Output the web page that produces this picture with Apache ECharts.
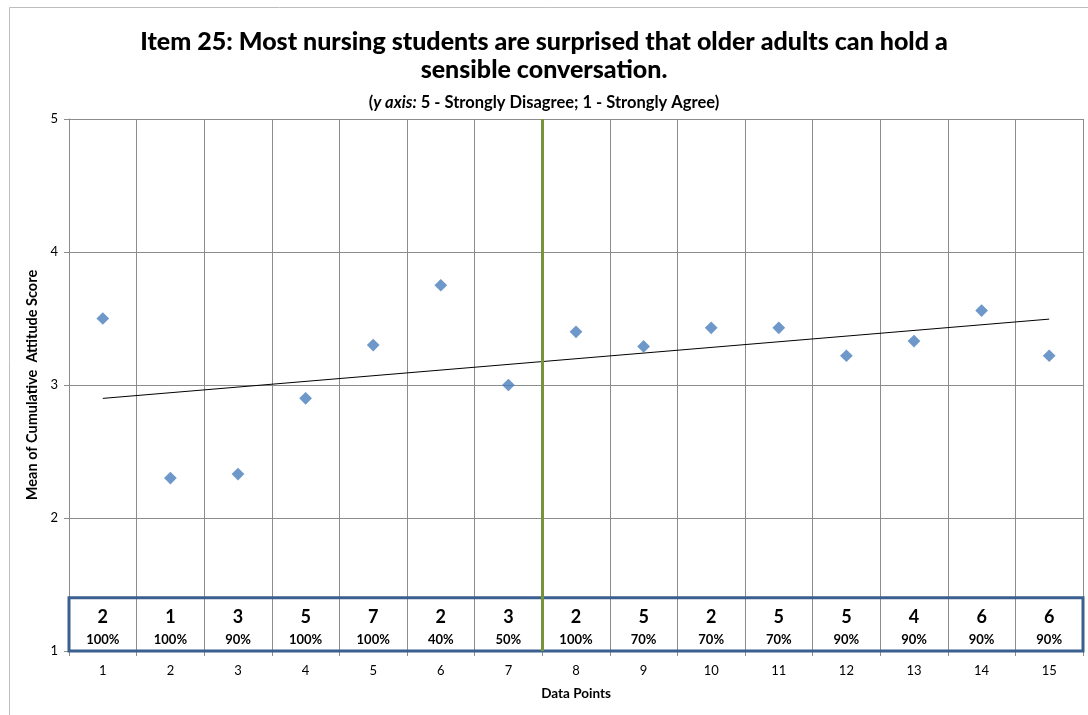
<!DOCTYPE html>
<html>
<head>
  <meta charset="UTF-8">
  <title>Item 25</title>
  <script src="https://cdn.jsdelivr.net/npm/echarts@6/dist/echarts.min.js"></script>
  <style>
    body { margin: 0; background: #fff; }
    #chart { width: 1088px; height: 715px; }
  </style>
</head>
<body>
<div id="chart"></div>
<script>
  // data
  var categories = ['1','2','3','4','5','6','7','8','9','10','11','12','13','14','15'];
  var meanScores = [3.50, 2.30, 2.33, 2.90, 3.30, 3.75, 3.00, 3.40, 3.29, 3.43, 3.43, 3.22, 3.33, 3.56, 3.22];
  var counts = [2, 1, 3, 5, 7, 2, 3, 2, 5, 2, 5, 5, 4, 6, 6];
  var percents = ['100%','100%','90%','100%','100%','40%','50%','100%','70%','70%','70%','90%','90%','90%','90%'];
  var splitAfter = 7.5; // phase change line between point 7 and 8

  // linear trend (least squares) of the means
  var n = meanScores.length, sx = 0, sy = 0, sxy = 0, sxx = 0;
  meanScores.forEach(function (v, i) {
    var x = i + 1;
    sx += x; sy += v; sxy += x * v; sxx += x * x;
  });
  var slope = (n * sxy - sx * sy) / (n * sxx - sx * sx);
  var icpt = (sy - slope * sx) / n;
  var trend = [[1, icpt + slope], [n, icpt + slope * n]];

  var font = 'Lato, "Open Sans", sans-serif';
  var chart = echarts.init(document.getElementById('chart'));

  var option = {
    backgroundColor: '#fff',
    textStyle: { fontFamily: font },
    animation: false,
    graphic: [{
      type: 'rect',
      shape: { x: 9.5, y: 7.5, width: 1100, height: 720 },
      style: { fill: 'none', stroke: '#bdbdbd', lineWidth: 1 },
      silent: true
    }],
    title: [{
      text: 'Item 25: Most nursing students are surprised that older adults can hold a\nsensible conversation.',
      left: 'center',
      top: 23,
      textStyle: { fontFamily: font, fontSize: 25, fontWeight: 900, color: '#000', lineHeight: 28 }
    }, {
      text: '{n|(}{i|y axis:}{n| 5 - Strongly Disagree; 1 - Strongly Agree)}',
      left: 'center',
      top: 89,
      textStyle: {
        rich: {
          n: { fontFamily: font, fontSize: 16.5, fontWeight: 'bold', color: '#000' },
          i: { fontFamily: font, fontSize: 16.5, fontWeight: 'bold', fontStyle: 'italic', color: '#000' }
        }
      }
    }],
    grid: { left: 69, right: 5, top: 119, bottom: 64 },
    xAxis: [{
      type: 'category',
      data: categories,
      boundaryGap: true,
      name: 'Data Points',
      nameLocation: 'middle',
      nameGap: 36,
      nameTextStyle: { fontFamily: font, fontSize: 13.5, fontWeight: 'bold', color: '#000' },
      axisLine: { lineStyle: { color: '#8c8c8c' } },
      axisTick: { show: true, length: 5, lineStyle: { color: '#8c8c8c' } },
      axisLabel: { fontFamily: font, fontSize: 13, color: '#000', margin: 13 },
      splitLine: { show: true, lineStyle: { color: '#8c8c8c', width: 1 } }
    }, {
      type: 'value',
      min: 0.5,
      max: 15.5,
      show: false
    }],
    yAxis: {
      type: 'value',
      min: 1,
      max: 5,
      interval: 1,
      name: 'Mean of Cumulative  Attitude Score',
      nameLocation: 'middle',
      nameGap: 28,
      nameTextStyle: { fontFamily: font, fontSize: 14.5, fontWeight: 'bold', color: '#000' },
      axisLine: { show: true, lineStyle: { color: '#8c8c8c' } },
      axisTick: { show: true, length: 5, lineStyle: { color: '#8c8c8c' } },
      axisLabel: { fontFamily: font, fontSize: 13, color: '#000', margin: 11 },
      splitLine: { show: true, lineStyle: { color: '#8c8c8c', width: 1 } }
    },
    series: [{
      type: 'line',
      xAxisIndex: 1,
      data: trend,
      symbol: 'none',
      lineStyle: { color: '#000', width: 1 },
      silent: true,
      z: 3,
      markLine: {
        silent: true,
        symbol: 'none',
        label: { show: false },
        lineStyle: { color: '#77933C', width: 3, type: 'solid' },
        data: [{ xAxis: splitAfter }]
      },
      markArea: {
        silent: true,
        itemStyle: { color: 'rgba(0,0,0,0)', borderColor: '#3B5F8E', borderWidth: 3 },
        data: [[{ xAxis: 0.5, yAxis: 1 }, { xAxis: 15.5, yAxis: 1.4 }]]
      }
    }, {
      type: 'scatter',
      data: meanScores.map(function (v, i) { return [i, v]; }),
      symbol: 'rect',
      symbolRotate: 45,
      symbolSize: 9,
      itemStyle: { color: '#4A7EBB' },
      z: 4
    }, {
      type: 'custom',
      silent: true,
      z: 5,
      data: counts.map(function (c, i) { return [i, c, percents[i]]; }),
      renderItem: function (params, api) {
        var p = api.coord([api.value(0), 1]);
        var d = counts[params.dataIndex];
        var pc = percents[params.dataIndex];
        return {
          type: 'group',
          children: [{
            type: 'text',
            style: {
              x: p[0], y: p[1] - 34, text: String(d),
              align: 'center', verticalAlign: 'middle',
              font: 'bold 18px ' + font, fill: '#000'
            }
          }, {
            type: 'text',
            style: {
              x: p[0], y: p[1] - 11, text: pc,
              align: 'center', verticalAlign: 'middle',
              font: 'bold 13px ' + font, fill: '#000'
            }
          }]
        };
      }
    }]
  };

  chart.setOption(option);
</script>
</body>
</html>
